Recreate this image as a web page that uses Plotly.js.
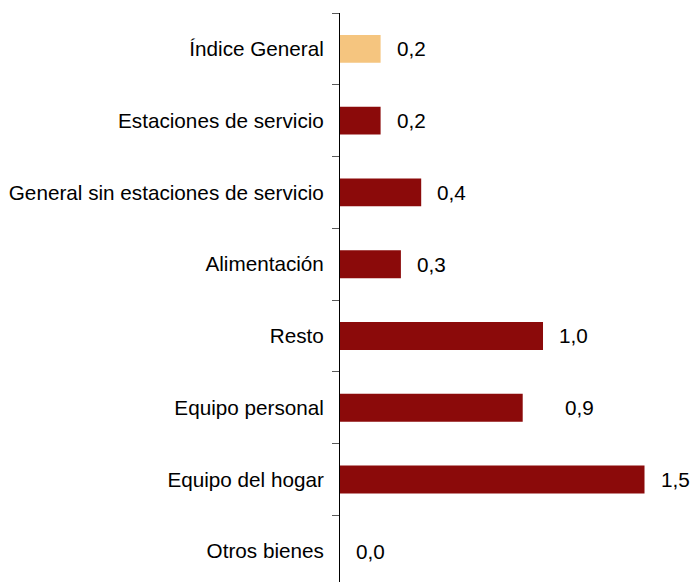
<!DOCTYPE html>
<html><head><meta charset="utf-8">
<script src="https://cdn.plot.ly/plotly-3.0.1.min.js"></script>
<style>html,body{margin:0;padding:0;background:#fff}</style>
</head><body>
<div id="chart" style="width:691px;height:582px"></div>
<script>
var categories = ["Índice General","Estaciones de servicio","General sin estaciones de servicio","Alimentación","Resto","Equipo personal","Equipo del hogar","Otros bienes"];
var values = [0.2,0.2,0.4,0.3,1.0,0.9,1.5,0.0];
var colors = ["#F5C57F","#8B0A0A","#8B0A0A","#8B0A0A","#8B0A0A","#8B0A0A","#8B0A0A","#8B0A0A"];
var labelShift = [14,14,14,14,14,40,14,14];

var trace = {type:'bar', orientation:'h', x:values, y:categories,
  marker:{color:colors}, hoverinfo:'none'};
var annotations = categories.map(function(c,i){
  return {x:values[i], y:c, xref:'x', yref:'y', text:values[i].toFixed(1).replace('.',','),
    showarrow:false, xanchor:'left', xshift:labelShift[i],
    font:{family:'Liberation Sans, Arial, sans-serif', size:20.7, color:'#000'}};
});
var layout = {
  width:691, height:582, margin:{l:340,r:0,t:13,b:0},
  paper_bgcolor:'#fff', plot_bgcolor:'#fff', showlegend:false, bargap:0.61,
  font:{family:'Liberation Sans, Arial, sans-serif', size:20.7, color:'#000'},
  xaxis:{range:[0,1.729], visible:false, fixedrange:true},
  yaxis:{type:'category', range:[7.43,-0.5], showline:true, linecolor:'#000', linewidth:1,
    ticks:'outside', tickson:'boundaries', ticklen:7, tickcolor:'#595959', tickwidth:1,
    showgrid:false, zeroline:false, ticklabelstandoff:11,
    tickfont:{family:'Liberation Sans, Arial, sans-serif', size:20.7, color:'#000'}},
  annotations:annotations
};
Plotly.newPlot('chart',[trace],layout,{displayModeBar:false,staticPlot:true});
</script>
</body></html>
